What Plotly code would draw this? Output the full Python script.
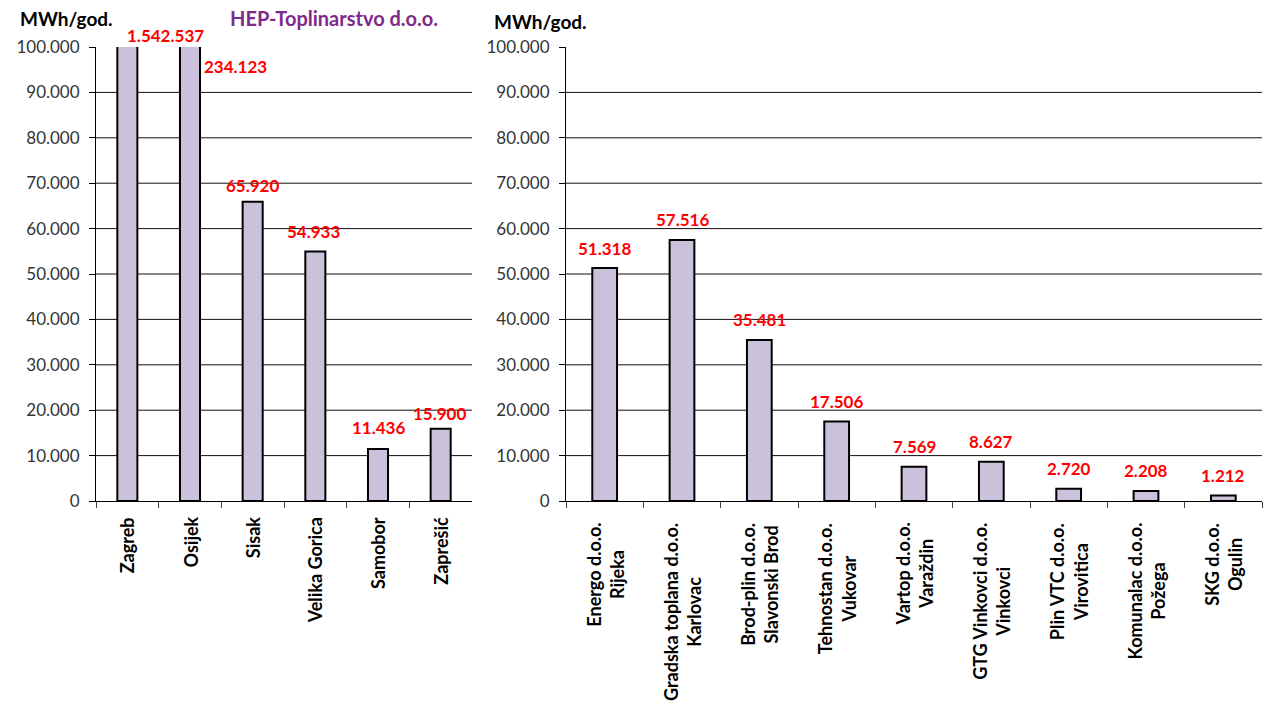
import plotly.graph_objects as go

# ---------------- data ----------------
left_categories = ["Zagreb", "Osijek", "Sisak", "Velika Gorica", "Samobor", "Zaprešić"]
left_values = [1542537, 234123, 65920, 54933, 11436, 15900]

right_categories = [
    "Energo d.o.o.<br>Rijeka",
    "Gradska toplana d.o.o.<br>Karlovac",
    "Brod-plin d.o.o.<br>Slavonski Brod",
    "Tehnostan d.o.o.<br>Vukovar",
    "Vartop d.o.o.<br>Varaždin",
    "GTG Vinkovci d.o.o.<br>Vinkovci",
    "Plin VTC d.o.o.<br>Virovitica",
    "Komunalac d.o.o.<br>Požega",
    "SKG d.o.o.<br>Ogulin",
]
right_values = [51318, 57516, 35481, 17506, 7569, 8627, 2720, 2208, 1212]

y_ticks = [0, 10000, 20000, 30000, 40000, 50000, 60000, 70000, 80000, 90000, 100000]
y_max = 100000
unit_label = "MWh/god."
left_title = "HEP-Toplinarstvo d.o.o."

# ---------------- style ----------------
FONT = "Lato"
BAR_FILL = "#CCC1DA"
RED = "#FF0000"
GRID = "#111111"
W, H = 1264, 708

def px_x(p):
    return p / W

def px_y(p):
    return 1 - p / H

left_dom = [px_x(96), px_x(472)]
right_dom = [px_x(566), px_x(1262)]
y_dom = [px_y(501), px_y(47)]

def fmt(v):
    return f"{v:,}".replace(",", ".")

fig = go.Figure()
fig.add_trace(go.Bar(
    x=left_categories, y=left_values, xaxis="x", yaxis="y",
    marker=dict(color=BAR_FILL, line=dict(color="black", width=2)),
    hoverinfo="x+y", showlegend=False,
))
fig.add_trace(go.Bar(
    x=right_categories, y=right_values, xaxis="x2", yaxis="y2",
    marker=dict(color=BAR_FILL, line=dict(color="black", width=2)),
    hoverinfo="x+y", showlegend=False,
))

yaxis_common = dict(
    range=[0, y_max], tickvals=y_ticks, tickformat=",d",
    showgrid=False, zeroline=False, automargin=False,
    showline=True, linecolor="black", linewidth=1,
    ticks="outside", ticklen=6, tickcolor="black", tickwidth=1,
    tickfont=dict(family=FONT, size=17, color="#333333"),
    ticklabelstandoff=6,
    domain=y_dom, fixedrange=True,
)
xaxis_common = dict(
    type="category", showticklabels=False, automargin=False,
    showline=True, linecolor="black", linewidth=1,
    ticks="outside", ticklen=6, tickcolor="#444444", tickson="boundaries",
    showgrid=False, zeroline=False, fixedrange=True,
)

fig.update_layout(
    width=W, height=H,
    margin=dict(l=0, r=0, t=0, b=0, autoexpand=False),
    paper_bgcolor="white", plot_bgcolor="white",
    separators=",.",
    bargap=0.68,
    xaxis=dict(**xaxis_common, domain=left_dom, anchor="y"),
    yaxis=dict(**yaxis_common, anchor="x"),
    xaxis2=dict(**xaxis_common, domain=right_dom, anchor="y2"),
    yaxis2=dict(**yaxis_common, anchor="x2"),
    font=dict(family=FONT),
)

# horizontal gridlines (no line at the top edge)
shapes = []
for axis_suffix in ["", "2"]:
    for t in y_ticks[1:-1]:
        shapes.append(dict(
            type="line", xref=f"x{axis_suffix} domain", yref=f"y{axis_suffix}",
            x0=0, x1=1, y0=t, y1=t, line=dict(color=GRID, width=1), layer="below",
        ))
fig.update_layout(shapes=shapes)

annotations = []

# value labels
left_label_shift = {"Zagreb": (38, 11), "Osijek": (45, -20),
                    "Sisak": (0, 16), "Velika Gorica": (-2, 20),
                    "Samobor": (0, 22), "Zaprešić": (-1, 15)}
for c, v in zip(left_categories, left_values):
    dx, dy = left_label_shift.get(c, (0, 20))
    annotations.append(dict(
        x=c, y=min(v, y_max), xref="x", yref="y", text=fmt(v), showarrow=False,
        xanchor="center", yanchor="middle", xshift=dx, yshift=dy,
        font=dict(family=FONT, size=17, color=RED, weight="bold"),
    ))
for c, v in zip(right_categories, right_values):
    annotations.append(dict(
        x=c, y=v, xref="x2", yref="y2", text=fmt(v), showarrow=False,
        xanchor="center", yanchor="middle", yshift=20,
        font=dict(family=FONT, size=17, color=RED, weight="bold"),
    ))

# category labels (rotated)
for c in left_categories:
    annotations.append(dict(
        x=c, y=0, xref="x", yref="y domain", text=c, showarrow=False,
        textangle=-90, xanchor="center", yanchor="top", yshift=-14, align="center",
        font=dict(family=FONT, size=18, color="black", weight="bold"),
    ))
for c in right_categories:
    annotations.append(dict(
        x=c, y=0, xref="x2", yref="y2 domain", text=c, showarrow=False,
        textangle=-90, xanchor="center", yanchor="top", yshift=-20, align="center",
        font=dict(family=FONT, size=18, color="black", weight="bold"),
    ))

# axis unit labels and title
annotations.append(dict(
    x=px_x(18), y=px_y(18), xref="paper", yref="paper", text=unit_label, showarrow=False,
    xanchor="left", yanchor="middle", font=dict(family=FONT, size=19, color="black", weight="bold"),
))
annotations.append(dict(
    x=px_x(492), y=px_y(21), xref="paper", yref="paper", text=unit_label, showarrow=False,
    xanchor="left", yanchor="middle", font=dict(family=FONT, size=19, color="black", weight="bold"),
))
annotations.append(dict(
    x=px_x(228), y=px_y(18), xref="paper", yref="paper", text=left_title, showarrow=False,
    xanchor="left", yanchor="middle", font=dict(family=FONT, size=20, color="#7F2A8A", weight="bold"),
))

fig.update_layout(annotations=annotations)
fig.write_html("out.html", config={"displayModeBar": False},
               post_script="document.body.style.margin='0';")
